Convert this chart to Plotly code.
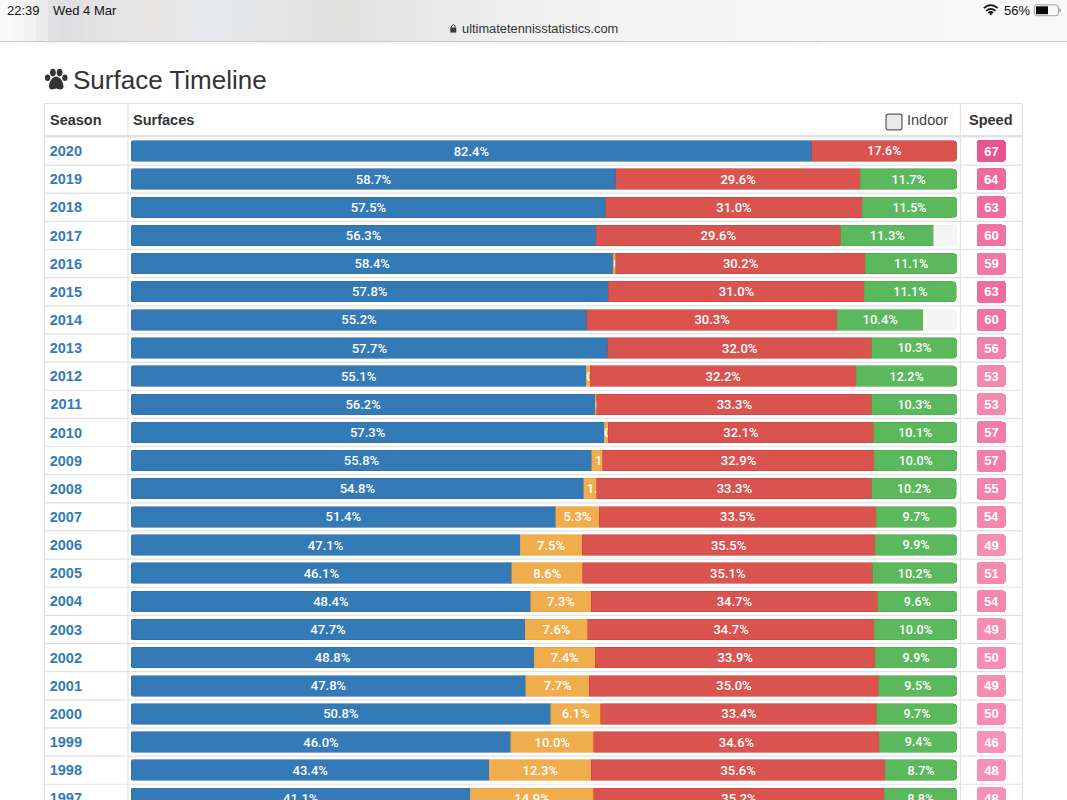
import plotly.graph_objects as go

# ---- data ----
seasons = ["2020","2019","2018","2017","2016","2015","2014","2013","2012","2011","2010","2009",
           "2008","2007","2006","2005","2004","2003","2002","2001","2000","1999","1998","1997"]
hard = [82.4,58.7,57.5,56.3,58.4,57.8,55.2,57.7,55.1,56.2,57.3,55.8,54.8,51.4,47.1,46.1,48.4,47.7,48.8,47.8,50.8,46.0,43.4,41.1]
carpet = [0,0,0,0,0.3,0,0,0,0.5,0.2,0.5,1.3,1.6,5.3,7.5,8.6,7.3,7.6,7.4,7.7,6.1,10.0,12.3,14.9]
clay = [17.6,29.6,31.0,29.6,30.2,31.0,30.3,32.0,32.2,33.3,32.1,32.9,33.3,33.5,35.5,35.1,34.7,34.7,33.9,35.0,33.4,34.6,35.6,35.2]
grass = [0,11.7,11.5,11.3,11.1,11.1,10.4,10.3,12.2,10.3,10.1,10.0,10.2,9.7,9.9,10.2,9.6,10.0,9.9,9.5,9.7,9.4,8.7,8.8]
unfilled = [0,0,0,2.8,0,0,4.1,0,0,0,0,0,0,0,0,0,0,0,0,0,0,0,0,0]
speed = [67,64,63,60,59,63,60,56,53,53,57,57,55,54,49,51,54,49,50,49,50,46,48,48]

# ---- page geometry (pixels of the 1067x800 screenshot) ----
W, H = 1067, 800
LAYOUT_H = 806
ROW0, STEP = 151.0, 28.145
TRACK_L, TRACK_R = 131.0, 957.0
BADGE_L, BADGE_R = 977.0, 1006.0
FONT = "Liberation Sans"
BAR_FONT = "Roboto"
INK = "#333333"
GRID = "#e2e2e2"
BAR_H = 20.5
BADGE_H = 22.0

def px(x): return x / W
def py(y): return 1 - y / H
def nz(v): return [a if a else None for a in v]
def labels(v): return [f"{a:.1f}%" if a else "" for a in v]

BADGE_STOPS = [(46, (247, 147, 184)), (54, (245, 134, 174)), (60, (240, 116, 163)), (64, (238, 106, 156)), (67, (232, 84, 144))]
def speed_colour(s):
    for (a, ca), (b, cb) in zip(BADGE_STOPS, BADGE_STOPS[1:]):
        if a <= s <= b:
            t = (s - a) / (b - a)
            return "rgb(%d,%d,%d)" % tuple(round(p + (q - p) * t) for p, q in zip(ca, cb))
    return "rgb(247,147,184)"

fig = go.Figure()

def add_surface(values, fill, edge, anchor="middle"):
    fig.add_trace(go.Bar(
        y=seasons, x=nz(values), orientation="h", text=labels(values), textposition="inside",
        insidetextanchor=anchor, textangle=0, constraintext="none", cliponaxis=True,
        textfont=dict(family=BAR_FONT, size=13, color="white", weight=500),
        marker=dict(color=fill, line=dict(color=edge, width=0.6)), hoverinfo="skip"))

narrow = [c if 0 < c < 3 else 0 for c in carpet]
wide = [c if c >= 3 else 0 for c in carpet]
add_surface(hard, "#337ab7", "#2e6da4")
add_surface(narrow, "#f0ad4e", "#eea236", "start")
add_surface(wide, "#f0ad4e", "#eea236")
add_surface(clay, "#d9534f", "#d43f3a")
add_surface(grass, "#5cb85c", "#4cae4c")
fig.add_trace(go.Bar(y=seasons, x=nz(unfilled), orientation="h", hoverinfo="skip",
                     marker=dict(color="#f5f5f5", line=dict(color="#eeeeee", width=0.6))))

# speed badges
fig.add_trace(go.Bar(
    y=seasons, x=[1] * len(seasons), xaxis="x2", orientation="h", width=BADGE_H / STEP,
    text=[str(s) for s in speed], textposition="inside", insidetextanchor="middle", textangle=0,
    constraintext="none", textfont=dict(family=FONT, size=13, color="white", weight=700),
    marker=dict(color=[speed_colour(s) for s in speed], line=dict(width=0)), hoverinfo="skip"))

shapes = []
def rect(x0, y0, x1, y1, fill, layer="below"):
    shapes.append(dict(type="rect", xref="paper", yref="paper", x0=px(x0), x1=px(x1), y0=py(y0), y1=py(y1),
                       fillcolor=fill, line=dict(width=0), layer=layer))
def line(x0, y0, x1, y1, colour=GRID, width=1.2, layer="below"):
    shapes.append(dict(type="line", xref="paper", yref="paper", x0=px(x0), x1=px(x1), y0=py(y0), y1=py(y1),
                       line=dict(color=colour, width=width), layer=layer))
def oval(cx, cy, rx, ry, fill):
    shapes.append(dict(type="circle", xref="paper", yref="paper", x0=px(cx-rx), x1=px(cx+rx), y0=py(cy-ry), y1=py(cy+ry),
                       fillcolor=fill, line=dict(width=0), layer="above"))
def path(points, fill=None, stroke=None, width=1.0):
    parts = []
    for cmd, *xy in points:
        coords = " ".join(f"{px(xy[i]):.5f},{py(xy[i+1]):.5f}" for i in range(0, len(xy), 2))
        parts.append(cmd + coords)
    d = " ".join(parts)
    if fill:
        d += " Z"
    shapes.append(dict(type="path", xref="paper", yref="paper", path=d, fillcolor=fill or "rgba(0,0,0,0)",
                       line=dict(color=stroke or "rgba(0,0,0,0)", width=width), layer="above"))

# browser bar: blurred page colours behind a translucent bar
stops = [(0,(250,250,250)),(25,(245,245,245)),(60,(222,222,224)),(110,(228,228,229)),(150,(232,230,229)),
         (210,(230,233,236)),(260,(228,229,230)),(340,(225,225,224)),(420,(232,232,232)),(520,(240,240,240)),
         (640,(244,244,244)),(820,(247,247,247)),(1067,(248,248,248))]
def lerp(x):
    for (a, ca), (b, cb) in zip(stops, stops[1:]):
        if a <= x <= b:
            t = (x - a) / (b - a)
            return "rgb(%d,%d,%d)" % tuple(round(p + (q - p) * t) for p, q in zip(ca, cb))
    return "rgb(248,248,248)"
for x in range(0, W, 12):
    rect(x, 0, x + 13, 41, lerp(x + 6), layer="above")
line(0, 41.5, W, 41.5, "#cbcbcb", 1.0, layer="above")
rect(44, 42, 822, 44.5, "#f6f6f6")
rect(822, 42, 1022, 44.5, "#fcfcfc")

# table grid
top, head = 103.5, 136.5
for i in range(len(seasons) + 1):
    shapes.append(dict(type="line", xref="paper", yref="y", x0=px(44), x1=px(1022), y0=i - 0.5, y1=i - 0.5,
                       line=dict(color=GRID, width=1.2), layer="below"))
line(44, top, 1022, top)
line(44, head - 0.5, 1022, head - 0.5, GRID, 2.2)
for x in (44.5, 128, 960.5, 1022.5):
    line(x, top, x, H)

# white masks that round the left end of every progress bar and badge
def left_corners(xl, half, R):
    for i in range(len(seasons)):
        yc = ROW0 + i * STEP
        yt, yb = yc - half, yc + half
        path([("M", xl, yt), ("L", xl + R, yt), ("Q", xl, yt, xl, yt + R)], fill="#ffffff")
        path([("M", xl, yb), ("L", xl + R, yb), ("Q", xl, yb, xl, yb - R)], fill="#ffffff")
left_corners(TRACK_L - 0.5, BAR_H / 2 + 0.5, 3.5)
left_corners(BADGE_L - 0.2, BADGE_H / 2 + 0.2, 3.2)

# paw icon
for cx, cy, rx, ry in [(47.6, 77.7, 2.6, 3.3), (52.9, 72.6, 2.9, 3.8), (59.6, 72.6, 2.9, 3.8), (64.9, 77.7, 2.6, 3.3)]:
    oval(cx, cy, rx, ry, "#333333")
path([("M", 56.2, 76.5), ("C", 52.5, 76.5, 49.0, 82.0, 49.0, 86.5), ("C", 49.0, 90.5, 53.5, 89.5, 56.2, 88.6),
      ("C", 59.0, 89.5, 63.5, 90.5, 63.5, 86.5), ("C", 63.5, 82.0, 60.0, 76.5, 56.2, 76.5)], fill="#333333")

# checkbox
path([("M", 888.5, 114.2), ("L", 899.5, 114.2), ("Q", 902, 114.2, 902, 116.7), ("L", 902, 127.3),
      ("Q", 902, 129.8, 899.5, 129.8), ("L", 888.5, 129.8), ("Q", 886, 129.8, 886, 127.3), ("L", 886, 116.7),
      ("Q", 886, 114.2, 888.5, 114.2)], fill="#e9e9e9", stroke="#5f5f5f", width=1.2)

# padlock
path([("M", 450.3, 27.5), ("L", 456.3, 27.5), ("L", 456.3, 32.6), ("L", 450.3, 32.6)], fill="#3a3a3a")
path([("M", 451.4, 27.5), ("L", 451.4, 26), ("Q", 453.3, 23.2, 455.2, 26), ("L", 455.2, 27.5)], stroke="#3a3a3a", width=1.0)

# wifi
path([("M", 983.8, 8.2), ("Q", 990.8, 2.2, 997.8, 8.2)], stroke="#111111", width=1.7)
path([("M", 986.2, 10.8), ("Q", 990.8, 6.9, 995.4, 10.8)], stroke="#111111", width=1.7)
path([("M", 988.4, 13), ("Q", 990.8, 11, 993.2, 13)], stroke="#111111", width=1.7)
oval(990.8, 14.2, 1.1, 1.1, "#111111")

# battery
path([("M", 1036.5, 4.8), ("L", 1056, 4.8), ("Q", 1058.5, 4.8, 1058.5, 7.3), ("L", 1058.5, 13.2), ("Q", 1058.5, 15.7, 1056, 15.7),
      ("L", 1036.5, 15.7), ("Q", 1034.5, 15.7, 1034.5, 13.2), ("L", 1034.5, 7.3), ("Q", 1034.5, 4.8, 1036.5, 4.8)],
     fill="#f7f7f7", stroke="#8a8a8a", width=0.8)
rect(1036, 6.3, 1048, 14.2, "#0a0a0a", layer="above")
rect(1059.5, 8.5, 1060.6, 12, "#8a8a8a", layer="above")

def note(x, y, text, size, colour=INK, anchor="left", weight=400):
    return dict(xref="paper", yref="paper", x=px(x - 2), y=py(y), text=text, showarrow=False, xanchor=anchor, yanchor="middle",
                font=dict(family=FONT, size=size, color=colour, weight=weight))

annotations = [
    note(7, 10.5, "22:39", 13, "#111111"),
    note(53, 10.5, "Wed 4 Mar", 13, "#111111"),
    note(462, 28.5, "ultimatetennisstatistics.com", 12.85, "#333333"),
    note(1004, 10.5, "56%", 13, "#111111"),
    note(73, 80.5, "Surface Timeline", 26, "#333333"),
    note(50, 120, "Season", 14.5, INK, weight=700),
    note(133, 119.5, "Surfaces", 14.5, INK, weight=700),
    note(907, 119.8, "Indoor", 14.5, "#444444"),
    note(969, 120, "Speed", 14.5, INK, weight=700),
]

fig.update_layout(
    width=W, height=LAYOUT_H, margin=dict(l=0, r=0, t=0, b=0), paper_bgcolor="white", plot_bgcolor="rgba(0,0,0,0)",
    showlegend=False, barmode="stack", bargap=1 - BAR_H / STEP, barcornerradius=4, hovermode=False,
    shapes=shapes, annotations=annotations,
    xaxis=dict(domain=[px(TRACK_L), px(TRACK_R)], range=[0, 100], visible=False, fixedrange=True),
    xaxis2=dict(domain=[px(BADGE_L), px(BADGE_R)], range=[0, 1], visible=False, anchor="y", fixedrange=True),
    yaxis=dict(type="category", categoryorder="array", categoryarray=seasons, domain=[0, 1],
               range=[(H - ROW0) / STEP, -ROW0 / STEP], showgrid=False, zeroline=False, showline=False, ticks="",
               ticklabelstandoff=48, fixedrange=True,
               tickfont=dict(family=FONT, size=14.5, color="#337ab7", weight=700)),
)

fig.write_html("out.html", config=dict(displayModeBar=False),
               post_script="document.body.style.margin='0';")
